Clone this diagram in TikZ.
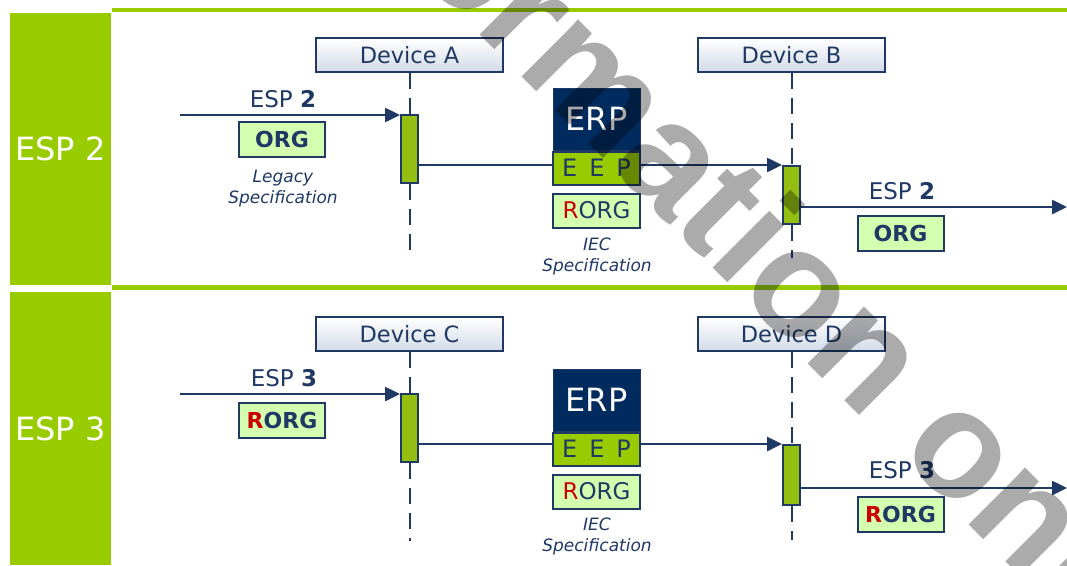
\documentclass[tikz,border=0pt]{standalone}
\usepackage{fontspec}
\setmainfont{DejaVu Sans}
\newfontfamily\markfont{Liberation Sans}
\usetikzlibrary{arrows.meta,positioning}

\definecolor{navy}{HTML}{1F3864}
\definecolor{erpblue}{HTML}{002B5E}
\definecolor{espgreen}{HTML}{99CC00}
\definecolor{bargreen}{HTML}{95BF10}
\definecolor{orgfill}{HTML}{D5FFB0}
\definecolor{devfill}{HTML}{D3DBE8}
\definecolor{rred}{HTML}{CC0000}

\tikzset{
  espbar/.style={fill=espgreen, text=white, minimum width=101pt, inner sep=0,
    font=\fontsize{32}{38}\selectfont},
  panelline/.style={espgreen, line width=4.5pt},
  device/.style={draw=navy, line width=2pt, top color=white, bottom color=devfill,
    minimum width=187pt, minimum height=34pt, inner sep=0, text=navy,
    font=\fontsize{22.5}{26}\selectfont},
  actbar/.style={draw=navy, line width=2pt, fill=bargreen, minimum width=17pt, inner sep=0},
  lifeline/.style={navy, line width=2pt, dash pattern=on 16pt off 9pt},
  msg/.style={navy, line width=2.5pt, -{Triangle[length=15pt,width=14pt]}},
  esplabel/.style={anchor=base, text=navy, inner sep=0, font=\fontsize{23}{27}\selectfont},
  orgbox/.style={draw=navy, line width=2pt, fill=orgfill, minimum width=86pt,
    minimum height=35pt, inner sep=0, text=navy, font=\bfseries\fontsize{22}{26}\selectfont},
  rorgbox/.style={orgbox, minimum width=87pt, minimum height=34pt,
    font=\fontsize{23}{27}\selectfont},
  erpbox/.style={draw=navy, line width=1pt, fill=erpblue, text=white, minimum width=87pt,
    minimum height=62pt, inner sep=0, font=\fontsize{32}{38}\selectfont},
  eepbox/.style={draw=navy, line width=2pt, fill=espgreen, text=navy, minimum width=87pt,
    minimum height=33pt, inner sep=0, font=\fontsize{24}{28}\selectfont},
  spec/.style={align=center, text=navy, inner sep=0,
    font=\itshape\fontsize{17}{21}\selectfont},
}

\begin{document}
\begin{tikzpicture}[x=1pt,y=-1pt]
  \useasboundingbox (0,0) rectangle (1067,565);

  % panels
  \node[espbar, minimum height=272pt] (esp2) at (60.5,149) {ESP 2};
  \node[espbar, minimum height=273pt] (esp3) at (60.5,428.5) {ESP 3};
  \draw[panelline] (112,10) -- (1067,10);
  \draw[panelline] (112,287.5) -- (1067,287.5);

  % devices and lifelines
  \node[device] (devA) at (409.5,55) {Device A};
  \node[device] (devB) at (791.5,55) {Device B};
  \node[device] (devC) at (409.5,334) {Device C};
  \node[device] (devD) at (791.5,334) {Device D};
  \node[actbar, minimum height=68pt] (barA) at (409.5,149) {};
  \node[actbar, minimum height=58pt] (barB) at (791.5,195) {};
  \node[actbar, minimum height=68pt] (barC) at (409.5,428) {};
  \node[actbar, minimum height=60pt] (barD) at (791.5,475) {};
  \coordinate (endA) at (409.5,258);
  \coordinate (endB) at (791.5,258);
  \coordinate (endC) at (409.5,541);
  \coordinate (endD) at (791.5,540);
  \draw[lifeline] (devA.south) -- (barA.north);
  \draw[lifeline] (barA.south) -- (endA);
  \draw[lifeline] (devB.south) -- (barB.north);
  \draw[lifeline] (barB.south) -- (endB);
  \draw[lifeline] (devC.south) -- (barC.north);
  \draw[lifeline] (barC.south) -- (endC);
  \draw[lifeline] (devD.south) -- (barD.north);
  \draw[lifeline] (barD.south) -- (endD);

  % ESP 2 telegram
  \coordinate (inA) at (180,115);
  \coordinate (outB) at (1067,207);
  \draw[msg] (inA) -- (inA -| barA.west);
  \draw[msg] (barA.east |- barB.north) -- (barB.north west);
  \draw[msg] (barB.east |- outB) -- (outB);
  \node[esplabel] (lblA) at (283,107) {ESP \textbf{2}};
  \node[orgbox] (orgA) at (282,139.5) {ORG};
  \node[spec] (legacy) at (283,189) {Legacy\\Specification};
  \node[erpbox] (erp1) at (596.5,119) {ERP};
  \node[eepbox, below=0pt of erp1] (eep1) {E\hspace{12pt}E\hspace{12pt}P};
  \node[rorgbox, below=7pt of eep1] (rorg1) {\textcolor{rred}{R}ORG};
  \node[spec] (iec1) at (597,256) {IEC\\Specification};
  \node[esplabel] (lblB) at (902,199) {ESP \textbf{2}};
  \node[orgbox] (orgB) at (900.5,233) {ORG};

  % ESP 3 telegram
  \coordinate (inC) at (180,394);
  \coordinate (outD) at (1067,488);
  \draw[msg] (inC) -- (inC -| barC.west);
  \draw[msg] (barC.east |- barD.north) -- (barD.north west);
  \draw[msg] (barD.east |- outD) -- (outD);
  \node[esplabel] (lblC) at (284,386) {ESP \textbf{3}};
  \node[orgbox] (orgC) at (282,420) {\textcolor{rred}{R}ORG};
  \node[erpbox] (erp2) at (596.5,400) {ERP};
  \node[eepbox, below=0pt of erp2] (eep2) {E\hspace{12pt}E\hspace{12pt}P};
  \node[rorgbox, below=7pt of eep2] (rorg2) {\textcolor{rred}{R}ORG};
  \node[spec] (iec2) at (597,536) {IEC\\Specification};
  \node[esplabel] (lblD) at (902,478) {ESP \textbf{3}};
  \node[orgbox] (orgD) at (900.5,514) {\textcolor{rred}{R}ORG};

  % watermark
  \node[rotate=-45, opacity=0.33, text=black, inner sep=0,
    font=\markfont\bfseries\fontsize{152}{158}\selectfont] (mark) at (724,224) {Information only};
\end{tikzpicture}
\end{document}
